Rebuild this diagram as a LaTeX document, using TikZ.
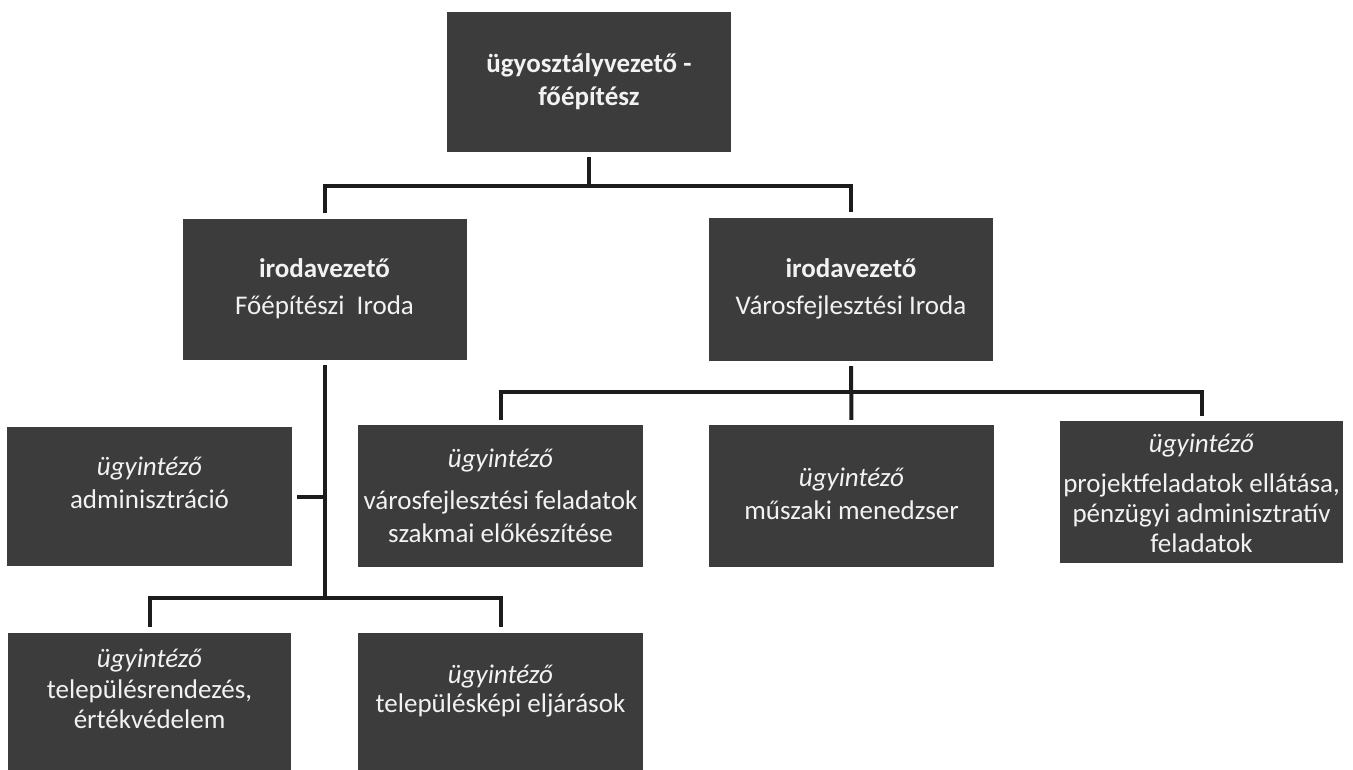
\documentclass[tikz,border=0pt]{standalone}
\usepackage{fontspec}
\setmainfont{Carlito}
\definecolor{boxgray}{HTML}{3C3C3C}
\definecolor{linecol}{HTML}{1C1C1C}
\definecolor{txtcol}{HTML}{F2F2F2}
\begin{document}
\begin{tikzpicture}[x=1pt,y=-1pt,
  orgbox/.style={draw=none,fill=boxgray,minimum width=284pt,minimum height=141pt,inner sep=0pt},
  txt/.style={text=txtcol,align=center,inner sep=0pt,font=\fontsize{27}{33}\selectfont},
  conn/.style={draw=linecol,line width=4pt}]
\useasboundingbox (0,0) rectangle (1353,770);
% boxes
\node[orgbox,minimum height=140pt] (top) at (589,82) {};
\node[orgbox] (L1) at (324.5,289.5) {};
\node[orgbox,minimum height=143pt] (R1) at (851,289.5) {};
\node[orgbox,minimum width=285pt,minimum height=139pt] (admin) at (149.5,496.5) {};
\node[orgbox,minimum width=285pt,minimum height=142pt] (M1) at (500.5,496) {};
\node[orgbox,minimum width=285pt,minimum height=142pt] (M2) at (851.5,496) {};
\node[orgbox,minimum width=283pt,minimum height=142pt] (M3) at (1201.5,492) {};
\node[orgbox,minimum width=283pt,minimum height=137pt] (B1) at (149.5,701.5) {};
\node[orgbox,minimum width=285pt,minimum height=137pt] (B2) at (500.5,701.5) {};
% texts
\node[txt] (ttop) at (589,82) {\textbf{ügyosztályvezető -}\\\textbf{főépítész}};
\node[txt] (tL1) at (324.5,289) {\textbf{irodavezető}\\[4pt]Főépítészi\ \ Iroda};
\node[txt] (tR1) at (851,289) {\textbf{irodavezető}\\[4pt]Városfejlesztési Iroda};
\node[txt] (tadmin) at (149.5,483) {\textit{ügyintéző}\\adminisztráció};
\node[txt] (tM1) at (500.5,496) {\textit{ügyintéző}\\[9pt]városfejlesztési feladatok\\szakmai előkészítése};
\node[txt] (tM2) at (851.5,494) {\textit{ügyintéző}\\műszaki menedzser};
\node[txt] (tM3) at (1201.5,493) {\textit{ügyintéző}\\[7pt]projektfeladatok ellátása,\\[-3pt]pénzügyi adminisztratív\\[-3pt]feladatok};
\node[txt] (tB1) at (149.5,689) {\textit{ügyintéző}\\[-2pt]településrendezés,\\[-3pt]értékvédelem};
\node[txt] (tB2) at (500.5,691.5) {\textit{ügyintéző}\\[-4pt]településképi eljárások};
% junction coordinates
\coordinate (j1) at (0,186);
\coordinate (j2) at (0,392);
\coordinate (j3) at (0,598);
% connectors
\draw[conn,shorten <=5pt] (top.south) -- (top.south |- j1);
\draw[conn,shorten <=6pt,shorten >=6pt] (L1.north) -- (L1.north |- j1) -- (R1.north |- j1) -- (R1.north);
\draw[conn,shorten <=5pt] (L1.south) -- (L1.south |- j3);
\draw[conn,shorten <=5pt] (admin.east) -- (admin.east -| L1.south);
\draw[conn,shorten <=6pt,shorten >=6pt] (B1.north) -- (B1.north |- j3) -- (B2.north |- j3) -- (B2.north);
\draw[conn,shorten <=5pt,shorten >=5pt] (R1.south) -- (M2.north);
\draw[conn,shorten <=5pt,shorten >=5pt] (M1.north) -- (M1.north |- j2) -- (M3.north |- j2) -- (M3.north);
\end{tikzpicture}
\end{document}
